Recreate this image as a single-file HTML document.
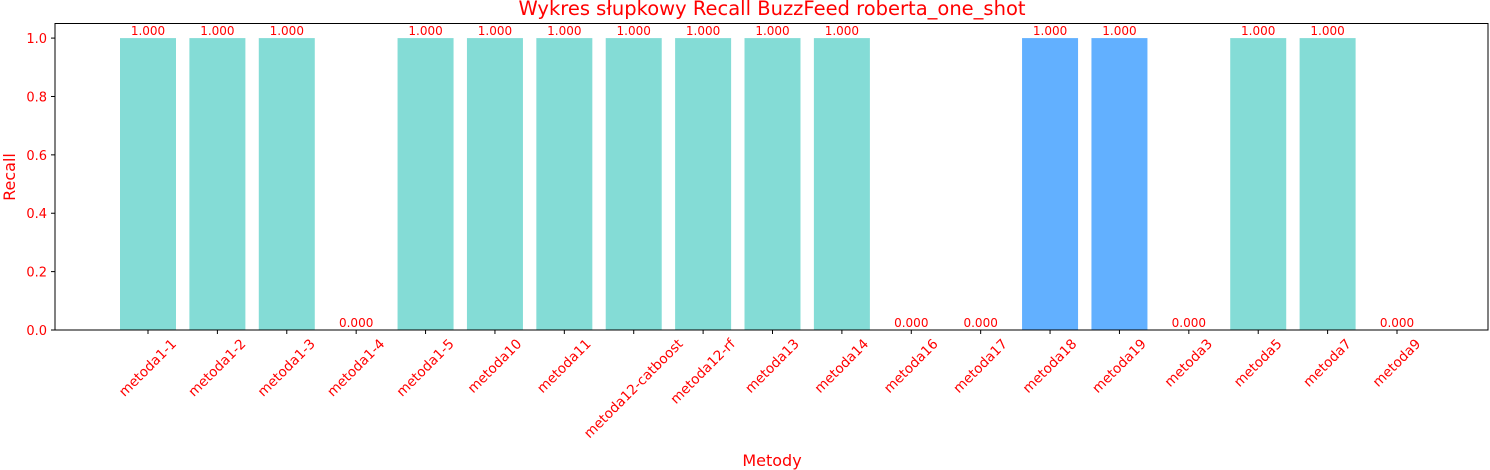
<!DOCTYPE html>
<html><head><meta charset="utf-8"><style>
body{margin:0;background:#fff}
svg{display:block;font-family:"DejaVu Sans","Liberation Sans",sans-serif}
</style></head><body>
<svg id="chart" width="1490" height="470">
<text x="772" y="15" text-anchor="middle" font-size="19.5" fill="#ff0000">Wykres słupkowy Recall BuzzFeed roberta_one_shot</text>
<text x="772" y="466" text-anchor="middle" font-size="16" fill="#ff0000">Metody</text>
<text transform="translate(15,177) rotate(-90)" text-anchor="middle" font-size="16" fill="#ff0000">Recall</text>
<g id="plot"></g>
</svg>
<script>
const categories=["metoda1-1","metoda1-2","metoda1-3","metoda1-4","metoda1-5","metoda10","metoda11","metoda12-catboost","metoda12-rf","metoda13","metoda14","metoda16","metoda17","metoda18","metoda19","metoda3","metoda5","metoda7","metoda9"];
const values=[1,1,1,0,1,1,1,1,1,1,1,0,0,1,1,0,1,1,0];
const highlighted=["metoda18","metoda19"];
const yTicks=[0,0.2,0.4,0.6,0.8,1.0];
const NS="http://www.w3.org/2000/svg";
const L=55,R=1488,T=23.5,B=330,YMAX=1.05;
const step=(1397-148)/18;
const x=i=>148+step*i;
const y=v=>B-(v/YMAX)*(B-T);
const g=document.getElementById('plot');
function el(t,a,p){const e=document.createElementNS(NS,t);for(const k in a)e.setAttribute(k,a[k]);(p||g).appendChild(e);return e;}
const FS=13.6;
categories.forEach((c,i)=>{
  const v=values[i];
  const r=el('rect',{x:x(i)-28,y:y(v),width:56,height:B-y(v),fill:highlighted.includes(c)?'#62b0ff':'#84dcd6'});
  
  
  const t=el('text',{x:x(i),y:y(v)-3,'text-anchor':'middle','font-size':12,fill:'#ff0000'});
  t.textContent=v.toFixed(3);
  
  
  el('line',{x1:x(i),x2:x(i),y1:B,y2:B+4,stroke:'#000'});
  const lt=el('text',{'text-anchor':'middle','font-size':FS,fill:'#ff0000','dominant-baseline':'central'});
  lt.textContent=c;
  
  
  const len=lt.getComputedTextLength();
  const half=(len+FS)/(2*Math.SQRT2);
  lt.setAttribute('transform',`translate(${x(i)},${B+7+half}) rotate(-45)`);
});
yTicks.forEach(v=>{
  el('line',{x1:L-4,x2:L,y1:y(v),y2:y(v),stroke:'#000'});
  const t=el('text',{x:L-8,y:y(v)+5,'text-anchor':'end','font-size':13,fill:'#ff0000'});
  t.textContent=v.toFixed(1);
  
  
});
const fr=el('rect',{x:L,y:T,width:R-L,height:B-T,fill:'none',stroke:'#000','stroke-width':1});


</script>
</body></html>
